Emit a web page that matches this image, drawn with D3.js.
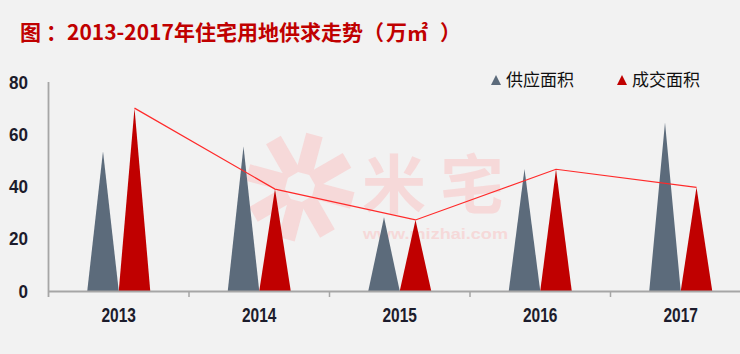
<!DOCTYPE html>
<html>
<head>
<meta charset="utf-8">
<script src="https://cdn.jsdelivr.net/npm/d3@7/dist/d3.min.js"></script>
<style>
html,body{margin:0;padding:0;background:#f2f2f2;}
svg{display:block;}
</style>
</head>
<body>
<svg id="chart" width="740" height="354"></svg>
<script>
const years = ["2013", "2014", "2015", "2016", "2017"];
const supply = [53.5, 55.3, 28.2, 46.7, 64.5];
const deal = [70.0, 39.0, 27.2, 46.6, 39.7];
const seriesNames = ["供应面积", "成交面积"];
const yTicks = [0, 20, 40, 60, 80];
const titleParts = ["图", "：", "2013-2017年住宅用地供求走势", "（", "万㎡", "）"];

const colors = ["#5c6b7b", "#c00000"];
const svg = d3.select("#chart");
svg.append("rect").attr("width", 740).attr("height", 354).attr("fill", "#f2f2f2");

const y = d3.scaleLinear().domain([0, 80]).range([291, 82]);
const x0 = d3.scaleBand().domain(years).range([48.5, 751]);
const x1 = d3.scaleBand().domain(seriesNames).range([-31.5, 31.5]);

// watermark
const wm = svg.append("g").attr("fill", "#f6d9d9").attr("stroke", "none");
const logo = wm.append("g").attr("transform", "translate(300,187)");
[0, 45, 90, 135].forEach((a) => {
  logo.append("rect").attr("x", -54).attr("y", -9).attr("width", 40).attr("height", 17)
    .attr("transform", `rotate(${a + 15})`);
  logo.append("rect").attr("x", 14).attr("y", -9).attr("width", 40).attr("height", 17)
    .attr("transform", `rotate(${a + 15})`);
});
wm.append("text").attr("x", 362).attr("y", 208).attr("font-family", "Noto Sans CJK SC")
  .attr("font-weight", "bold").attr("font-size", 64).attr("letter-spacing", 14).text("米宅");
wm.append("text").attr("x", 363).attr("y", 239).attr("font-size", 15).attr("font-weight", "bold")
  .attr("font-family", "Liberation Sans, Arial")
  .attr("textLength", 145).attr("lengthAdjust", "spacingAndGlyphs").text("www.mizhai.com");

// title
const title = svg.append("text").attr("x", 20).attr("y", 40)
  .attr("font-family", "Noto Sans CJK SC").attr("font-weight", "bold")
  .attr("font-size", 21).attr("fill", "#c00000");
const titleDx = [0, 5, 0, 0, 2, 12];
titleParts.forEach((t, i) => title.append("tspan").attr("dx", titleDx[i]).text(t));

const numFont = "Liberation Sans, Arial";
// y tick labels
svg.append("g").selectAll("text").data(yTicks).join("text")
  .attr("x", 28).attr("y", d => y(d) + 6.5).attr("text-anchor", "end")
  .attr("font-family", numFont).attr("font-weight", "bold")
  .attr("font-size", 18).attr("fill", "#1c1c2c")
  .attr("textLength", d => String(d).length * 9.5).attr("lengthAdjust", "spacingAndGlyphs")
  .text(d => d);

// triangles
const data = years.map((yr, i) => ({ yr, vals: [supply[i], deal[i]] }));
const g = svg.append("g");
data.forEach(d => {
  const c = x0(d.yr) + x0.bandwidth() / 2;
  seriesNames.forEach((s, k) => {
    const left = c + x1(s), right = left + x1.bandwidth(), apex = left + x1.bandwidth() / 2;
    const p = d3.path();
    p.moveTo(left, y(0)); p.lineTo(apex, y(d.vals[k])); p.lineTo(right, y(0)); p.closePath();
    g.append("path").attr("d", p.toString()).attr("fill", colors[k]);
  });
});

// line on deal tops
const line = d3.line()
  .x((v, i) => x0(years[i]) + x0.bandwidth() / 2 + x1(seriesNames[1]) + x1.bandwidth() / 2)
  .y(v => y(v));
svg.append("path").attr("d", line(deal)).attr("fill", "none")
  .attr("stroke", "#ff2a2a").attr("stroke-width", 1.2);

// axes
const axisColor = "#a6a6a6";
svg.append("line").attr("x1", 48.5).attr("x2", 48.5).attr("y1", 82).attr("y2", 297)
  .attr("stroke", axisColor).attr("stroke-width", 1.8);
svg.append("line").attr("x1", 48).attr("x2", 740).attr("y1", y(0) + 0.5).attr("y2", y(0) + 0.5)
  .attr("stroke", axisColor).attr("stroke-width", 1.8);
svg.append("g").selectAll("line").data(years.slice(1)).join("line")
  .attr("x1", d => x0(d)).attr("x2", d => x0(d)).attr("y1", y(0)).attr("y2", y(0) + 6)
  .attr("stroke", axisColor).attr("stroke-width", 1.5);

// x labels
svg.append("g").selectAll("text").data(years).join("text")
  .attr("x", d => x0(d) + x0.bandwidth() / 2).attr("y", 322).attr("text-anchor", "middle")
  .attr("font-family", numFont).attr("font-weight", "bold")
  .attr("font-size", 19.5).attr("fill", "#1c1c2c")
  .attr("textLength", 34.5).attr("lengthAdjust", "spacingAndGlyphs")
  .text(d => d);

// legend
const legX = [491, 617];
seriesNames.forEach((s, k) => {
  const lg = svg.append("g").attr("transform", `translate(${legX[k]},0)`);
  lg.append("path").attr("d", "M0,85L5,75L10,85Z").attr("fill", colors[k]);
  lg.append("text").attr("x", 15).attr("y", 86).attr("font-family", "Noto Sans CJK SC")
    .attr("font-size", 17).attr("fill", "#111").text(s);
});
</script>
</body>
</html>
